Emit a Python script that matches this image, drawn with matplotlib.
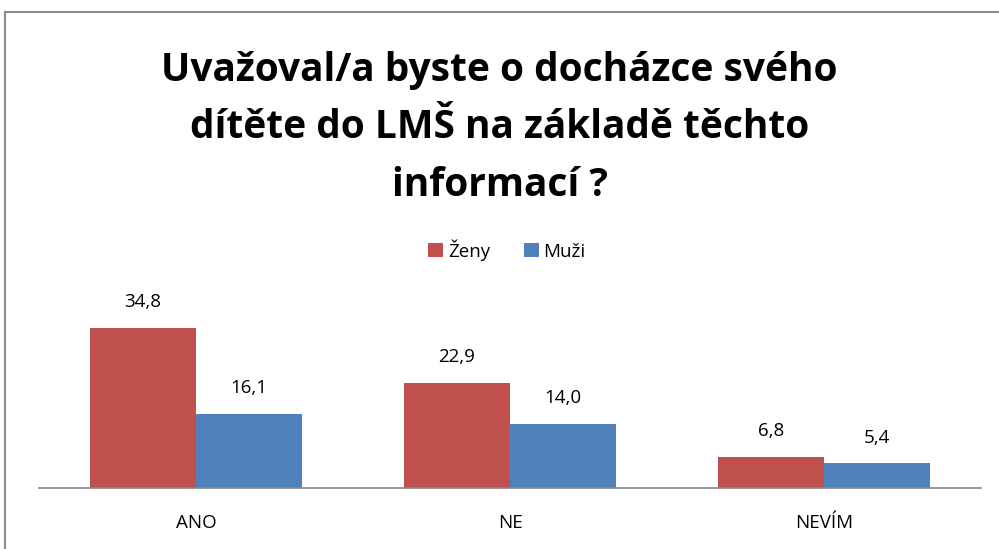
import matplotlib.pyplot as plt
from matplotlib.patches import Rectangle
import numpy as np

categories = ["ANO", "NE", "NEVÍM"]
zeny = [34.8, 22.9, 6.8]
muzi = [16.1, 14.0, 5.4]
series_names = ["Ženy", "Muži"]
title = "Uvažoval/a byste o docházce svého\ndítěte do LMŠ na základě těchto\ninformací ?"

plt.rcParams["font.family"] = ["Open Sans", "DejaVu Sans"]

fig = plt.figure(figsize=(9.99, 5.49), dpi=100)

# outer chart border (cut off at right and bottom like the original)
fig.patches.append(
    Rectangle((5 / 999, -0.1), 1.2, 1.1 - 12 / 549, transform=fig.transFigure,
              fill=False, edgecolor="#8c8c8c", linewidth=1.5)
)

ax = fig.add_axes([39 / 999, 61 / 549, 942 / 999, 198 / 549])

x = np.arange(len(categories))
bar_width = 106 / 314
ax.bar(x - bar_width / 2, zeny, bar_width, color="#C0504D", label=series_names[0])
ax.bar(x + bar_width / 2, muzi, bar_width, color="#4F81BD", label=series_names[1])

for i in range(len(categories)):
    ax.text(x[i] - bar_width / 2, zeny[i] + 3.6, f"{zeny[i]:.1f}".replace(".", ","),
            ha="center", va="bottom", fontsize=13.5)
    ax.text(x[i] + bar_width / 2, muzi[i] + 3.6, f"{muzi[i]:.1f}".replace(".", ","),
            ha="center", va="bottom", fontsize=13.5)

ax.set_xlim(-0.5, len(categories) - 0.5)
ax.set_ylim(0, 43)
ax.set_xticks(x)
ax.set_xticklabels(categories, fontsize=13.5)
ax.tick_params(axis="x", length=0, pad=19)
ax.set_yticks([])
for side in ["top", "right", "left"]:
    ax.spines[side].set_visible(False)
ax.spines["bottom"].set_color("#888888")
ax.spines["bottom"].set_linewidth(1.2)

fig.text(0.5, 1 - 128 / 549, title, ha="center", va="center",
         fontsize=28, fontweight="bold", linespacing=1.63)

fig.legend(loc="center", bbox_to_anchor=(507 / 999, 1 - 250 / 549), ncol=2,
           frameon=False, fontsize=13.5, handlelength=0.8, handleheight=0.8,
           handletextpad=0.25, columnspacing=1.8)

fig.savefig("out.png", dpi=100)
